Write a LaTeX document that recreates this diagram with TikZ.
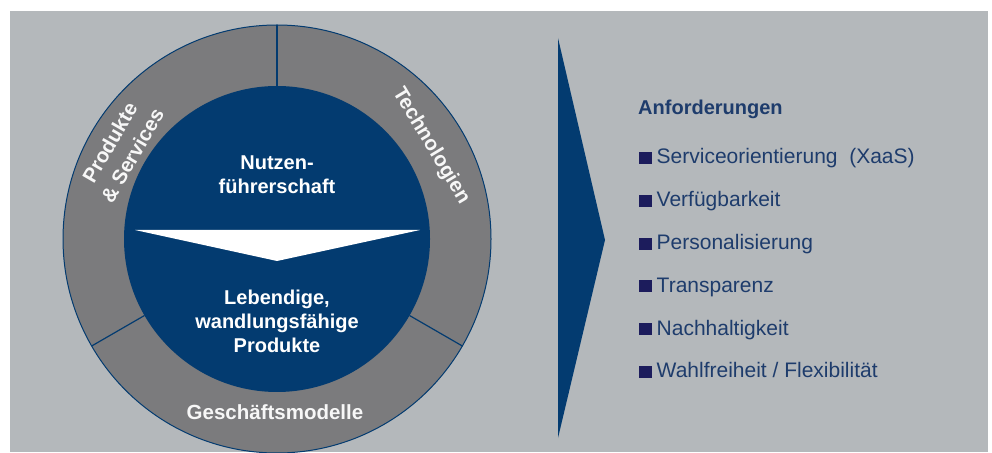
\documentclass[tikz,border=0pt]{standalone}
\usepackage{fontspec}
\setmainfont{Liberation Sans}
\usetikzlibrary{positioning}

\definecolor{bggray}{RGB}{180,184,187}
\definecolor{ringgray}{RGB}{123,123,125}
\definecolor{kernblue}{RGB}{3,59,112}
\definecolor{listblue}{RGB}{30,60,108}
\definecolor{bulletblue}{RGB}{28,28,92}

\tikzset{
  ringtext/.style={text=white!94!gray, font=\bfseries\fontsize{20.5}{26}\selectfont, align=center},
  kerntext/.style={text=white, font=\bfseries\fontsize{20}{24}\selectfont, align=center},
  listitem/.style={anchor=base west, inner sep=0pt, text=listblue, font=\fontsize{21}{25}\selectfont},
}
\newcommand{\sqbullet}{\textcolor{bulletblue}{\rule{12.5pt}{12pt}}\hspace{5pt}}

\begin{document}
\begin{tikzpicture}[x=1pt,y=1pt]
\useasboundingbox (0,0) rectangle (992,452);
\fill[bggray] (10,0) rectangle (988,441);

% ring with three sectors, blue core
\coordinate (M) at (277,213);
\filldraw[fill=ringgray, draw=kernblue, line width=1pt] (M) circle (214);
\fill[kernblue] (M) circle (153);
\draw[kernblue, line width=1.2pt] (M) ++(90:153) -- ++(90:61);
\draw[kernblue, line width=1.2pt] (M) ++(210:153) -- ++(210:61);
\draw[kernblue, line width=1.2pt] (M) ++(330:153) -- ++(330:61);

% white arrow inside the core
\fill[white] (135,222) -- (420,222) -- (277,191) -- cycle;

\node[kerntext] (nutzen) at (277,277) {Nutzen-\\führerschaft};
\node[kerntext] (lebendig) at (277,131) {Lebendige,\\wandlungsfähige\\Produkte};

\node[ringtext, rotate=60] (prodserv) at (121,303) {Produkte\\\& Services};
\node[ringtext, rotate=-59] (techno) at (431,306) {Technologien};
\node[ringtext] (geschaeft) at (275,40) {Geschäftsmodelle};

% big arrow to the right
\fill[kernblue] (558,414) -- (605,212) -- (558,14) -- cycle;

% requirements
\node[listitem, font=\bfseries\fontsize{20}{24}\selectfont] (anford) at (638,337) {Anforderungen};
\node[listitem] (serv) at (639,288) {\sqbullet Serviceorientierung\ \ (XaaS)};
\node[listitem] (verf) at (639,245.2) {\sqbullet Verfügbarkeit};
\node[listitem] (pers) at (639,202.4) {\sqbullet Personalisierung};
\node[listitem] (trans) at (639,159.6) {\sqbullet Transparenz};
\node[listitem] (nachh) at (639,116.8) {\sqbullet Nachhaltigkeit};
\node[listitem] (wahl) at (639,74) {\sqbullet Wahlfreiheit / Flexibilität};
\end{tikzpicture}
\end{document}
